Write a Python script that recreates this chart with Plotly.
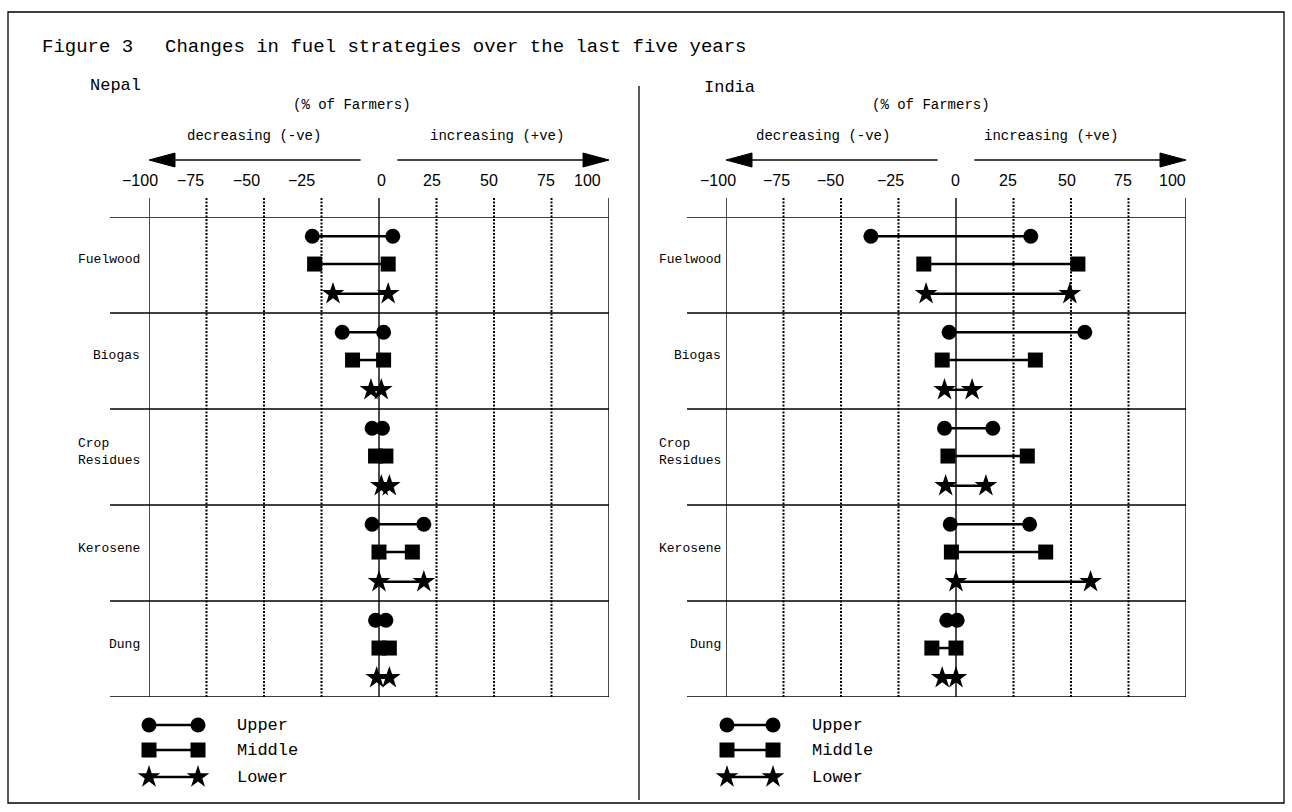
import plotly.graph_objects as go

W, H = 1292, 812

# ---------------- data ----------------
CATEGORIES = ["Fuelwood", "Biogas", "Crop<br>Residues", "Kerosene", "Dung"]
CLASSES = ["Upper", "Middle", "Lower"]
TICK_VALUES = [-100, -75, -50, -25, 0, 25, 50, 75, 100]
TICK_LABELS = ["\u2212100", "\u221275", "\u221250", "\u221225", "0", "25", "50", "75", "100"]

# Nepal: % of farmers decreasing (start, negative) and increasing (end, positive)
nepal_upper_start = [-29, -16, -3, -3, -1.5]
nepal_upper_end = [6, 2, 1.5, 19.5, 3]
nepal_middle_start = [-28, -11.5, -1.5, 0, 0]
nepal_middle_end = [4, 2, 3, 14.5, 4.5]
nepal_lower_start = [-20, -3.5, 1, 0, -1]
nepal_lower_end = [4, 1, 4.5, 19.5, 4.5]

# India
india_upper_start = [-37, -3, -5, -2.5, -4]
india_upper_end = [32.5, 56, 16, 32, 0.5]
india_middle_start = [-14, -6, -3.5, -2, -10.5]
india_middle_end = [53, 34.5, 31, 39, 0]
india_lower_start = [-13, -5, -4.5, 0, -6]
india_lower_end = [49.5, 7, 13, 58.5, 0]

# ---------------- styling / layout constants ----------------
MONO = "Liberation Mono, Courier New, monospace"
SANS = "Liberation Sans, Arial, sans-serif"
SYMBOLS = {"Upper": "circle", "Middle": "square", "Lower": "star"}
SIZES = {"Upper": 15, "Middle": 15, "Lower": 17}
ROW_OFFSETS = {"Upper": 0.20, "Middle": 0.49, "Lower": 0.80}

BOX_TOP, BOX_BOTTOM, TICK_TOP = 217, 697, 198


def px(x):
    return x / W


def py(y):
    return 1 - y / H


PANELS = [
    dict(name="Nepal", xaxis="x", left=149, right=609, row_left=110,
         name_x=88, name_y=85, pct_x=352, dec_x=254, inc_x=497,
         label_x=142,
         tick_label_x=[140, 190, 246, 301, 381, 432, 489, 546, 587],
         legend_x=(149, 198), legend_text_x=235,
         data={"Upper": (nepal_upper_start, nepal_upper_end),
               "Middle": (nepal_middle_start, nepal_middle_end),
               "Lower": (nepal_lower_start, nepal_lower_end)}),
    dict(name="India", xaxis="x2", left=726, right=1186, row_left=687,
         name_x=702, name_y=88, pct_x=931, dec_x=823, inc_x=1051,
         label_x=723,
         tick_label_x=[718, 777, 830, 890, 955, 1008, 1067, 1123, 1172],
         legend_x=(727, 773), legend_text_x=810,
         data={"Upper": (india_upper_start, india_upper_end),
               "Middle": (india_middle_start, india_middle_end),
               "Lower": (india_lower_start, india_lower_end)}),
]

fig = go.Figure()
shapes = []
annotations = []

for p in PANELS:
    xa = p["xaxis"]
    # data traces: dumbbells
    for cls in CLASSES:
        starts, ends = p["data"][cls]
        xs, ys = [], []
        for i, (s, e) in enumerate(zip(starts, ends)):
            yy = i + ROW_OFFSETS[cls]
            xs += [s, e, None]
            ys += [yy, yy, None]
        fig.add_trace(go.Scatter(
            x=xs, y=ys, xaxis=xa, yaxis="y", mode="lines+markers",
            line=dict(color="black", width=2.5),
            marker=dict(symbol=SYMBOLS[cls], size=SIZES[cls], color="black"),
            showlegend=False, hoverinfo="skip", cliponaxis=False))

    # vertical grid lines
    for v in TICK_VALUES:
        solid = v in (-100, 0, 100)
        shapes.append(dict(
            type="line", xref=xa, yref="paper", x0=v, x1=v,
            y0=py(TICK_TOP), y1=py(BOX_BOTTOM),
            line=dict(color="black", width=1.4 if solid else 2,
                      dash="solid" if solid else "2px,1.5px"),
            layer="below"))
    # horizontal row lines
    for r in range(len(CATEGORIES) + 1):
        shapes.append(dict(
            type="line", xref="paper", yref="y",
            x0=px(p["row_left"]), x1=px(p["right"]), y0=r, y1=r,
            line=dict(color="black", width=1.4), layer="below"))

    # arrows
    ay = py(160)
    head_len = 11.3
    dy = 7 / H
    shapes.append(dict(type="line", xref=xa, yref="paper",
                       x0=-8, x1=-100 + head_len, y0=ay, y1=ay,
                       line=dict(color="#444", width=2)))
    shapes.append(dict(type="line", xref=xa, yref="paper",
                       x0=8, x1=100 - head_len, y0=ay, y1=ay,
                       line=dict(color="#444", width=2)))
    shapes.append(dict(type="path", xref=xa, yref="paper",
                       path=f"M -100,{ay} L {-100 + head_len},{ay + dy} L {-100 + head_len},{ay - dy} Z",
                       fillcolor="black", line=dict(color="black", width=1)))
    shapes.append(dict(type="path", xref=xa, yref="paper",
                       path=f"M 100,{ay} L {100 - head_len},{ay + dy} L {100 - head_len},{ay - dy} Z",
                       fillcolor="black", line=dict(color="black", width=1)))

    # texts
    annotations.append(dict(text=p["name"], x=px(p["name_x"]), y=py(p["name_y"]),
                            xref="paper", yref="paper", xanchor="left", yanchor="middle",
                            showarrow=False, font=dict(family=MONO, size=17, color="black")))
    annotations.append(dict(text="(% of Farmers)", x=px(p["pct_x"]), y=py(105),
                            xref="paper", yref="paper", xanchor="center", yanchor="middle",
                            showarrow=False, font=dict(family=MONO, size=14, color="black")))
    annotations.append(dict(text="decreasing (-ve)", x=px(p["dec_x"]), y=py(136),
                            xref="paper", yref="paper", xanchor="center", yanchor="middle",
                            showarrow=False, font=dict(family=MONO, size=14, color="black")))
    annotations.append(dict(text="increasing (+ve)", x=px(p["inc_x"]), y=py(136),
                            xref="paper", yref="paper", xanchor="center", yanchor="middle",
                            showarrow=False, font=dict(family=MONO, size=14, color="black")))
    for lab, lx in zip(TICK_LABELS, p["tick_label_x"]):
        annotations.append(dict(text=lab, x=px(lx), y=py(181),
                                xref="paper", yref="paper", xanchor="center", yanchor="middle",
                                showarrow=False, font=dict(family=SANS, size=16, color="black")))
    for i, cat in enumerate(CATEGORIES):
        annotations.append(dict(text=cat, x=px(p["label_x"]), y=i + 0.5, yshift=5,
                                xref="paper", yref="y", xanchor="right", yanchor="middle",
                                align="left", showarrow=False,
                                font=dict(family=MONO, size=13, color="black")))

    # legend samples (drawn on a pixel canvas axis)
    for cls, ly in zip(CLASSES, [725, 750, 777]):
        fig.add_trace(go.Scatter(
            x=list(p["legend_x"]), y=[ly, ly], xaxis="x3", yaxis="y3",
            mode="lines+markers", line=dict(color="black", width=2.5),
            marker=dict(symbol=SYMBOLS[cls], size=SIZES[cls], color="black"),
            showlegend=False, hoverinfo="skip", cliponaxis=False))
        annotations.append(dict(text=cls, x=px(p["legend_text_x"]), y=py(ly),
                                xref="paper", yref="paper", xanchor="left", yanchor="middle",
                                showarrow=False, font=dict(family=MONO, size=17, color="black")))

# frame and divider
shapes.append(dict(type="rect", xref="paper", yref="paper",
                   x0=px(8), x1=px(1284), y0=py(803), y1=py(12),
                   line=dict(color="black", width=1.3)))
shapes.append(dict(type="line", xref="paper", yref="paper",
                   x0=px(639), x1=px(639), y0=py(86), y1=py(800),
                   line=dict(color="black", width=1.3)))

# title
annotations.append(dict(text="Figure 3", x=px(40), y=py(47), xref="paper", yref="paper",
                        xanchor="left", yanchor="middle", showarrow=False,
                        font=dict(family=MONO, size=19, color="black")))
annotations.append(dict(text="Changes in fuel strategies over the last five years",
                        x=px(163), y=py(47), xref="paper", yref="paper",
                        xanchor="left", yanchor="middle", showarrow=False,
                        font=dict(family=MONO, size=19, color="black")))

hidden = dict(visible=False, showgrid=False, zeroline=False, fixedrange=True)
fig.update_layout(
    width=W, height=H,
    margin=dict(l=0, r=0, t=0, b=0),
    paper_bgcolor="white", plot_bgcolor="rgba(0,0,0,0)",
    showlegend=False,
    xaxis=dict(domain=[px(149), px(609)], range=[-100, 100], **hidden),
    xaxis2=dict(domain=[px(726), px(1186)], range=[-100, 100], **hidden),
    yaxis=dict(domain=[py(BOX_BOTTOM), py(BOX_TOP)], range=[5, 0], **hidden),
    xaxis3=dict(domain=[0, 1], range=[0, W], **hidden),
    yaxis3=dict(domain=[0, 1], range=[H, 0], **hidden),
    shapes=shapes,
    annotations=annotations,
)

fig.write_html("out.html", include_plotlyjs=True, full_html=True,
               config={"displayModeBar": False, "staticPlot": True},
               post_script="document.body.style.margin='0';document.body.style.overflow='hidden';")
